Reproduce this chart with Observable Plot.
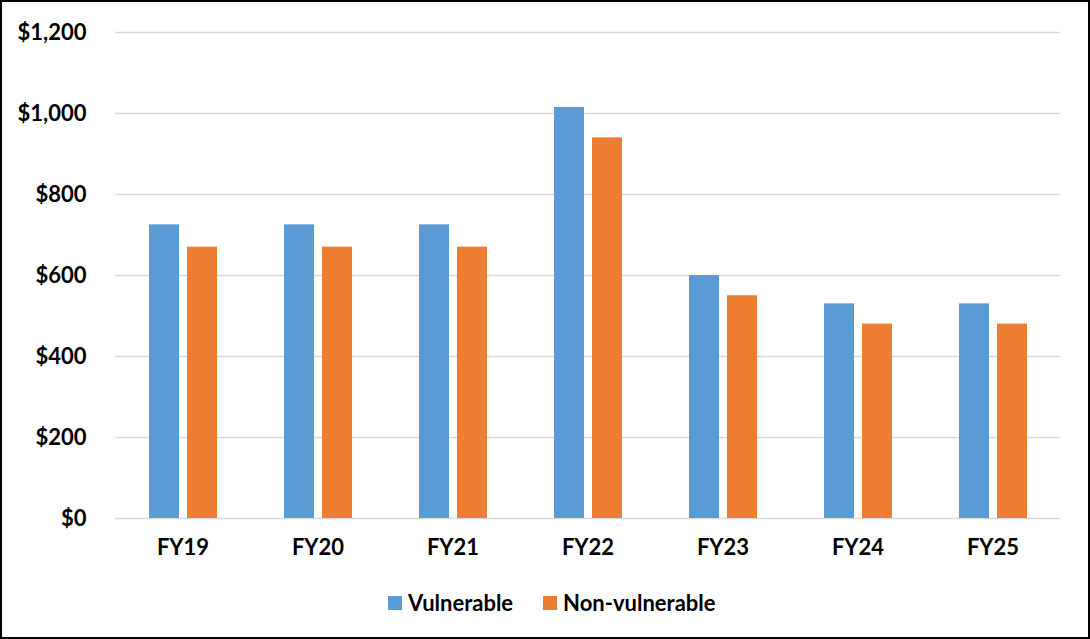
<!DOCTYPE html>
<html>
<head>
<meta charset="utf-8">
<script src="https://cdn.jsdelivr.net/npm/d3@7"></script>
<script src="https://cdn.jsdelivr.net/npm/@observablehq/plot@0.6"></script>
<style>
  html, body { margin: 0; padding: 0; background: #fff; }
  #wrap { position: relative; width: 1090px; height: 639px; overflow: hidden; font-family: Lato, "Open Sans", sans-serif; }
  #frame { position: absolute; left: 0; top: 0; width: 1090px; height: 639px; box-sizing: border-box; border: 2.5px solid #000; pointer-events: none; }
  #chart { position: absolute; left: 0; top: 0; }
  #legend { position: absolute; top: 589px; left: 388px; display: flex; align-items: center; font-weight: bold; font-size: 22px; color: #000; }
  .item { display: flex; align-items: center; margin-right: 30px; }
  .sw { width: 14px; height: 14px; margin-right: 6px; }
</style>
</head>
<body>
<div id="wrap">
  <div id="chart"></div>
  <div id="legend"></div>
  <div id="frame"></div>
</div>
<script>
const years = ["FY19", "FY20", "FY21", "FY22", "FY23", "FY24", "FY25"];
const vulnerable = [725, 725, 725, 1015, 600, 530, 530];
const nonVulnerable = [670, 670, 670, 940, 550, 480, 480];
const seriesNames = ["Vulnerable", "Non-vulnerable"];
const seriesColors = ["#5B9BD5", "#ED7D31"];
const yTicks = [0, 200, 400, 600, 800, 1000, 1200];

const data = [];
years.forEach((y, i) => {
  data.push({year: y, series: seriesNames[0], value: vulnerable[i]});
  data.push({year: y, series: seriesNames[1], value: nonVulnerable[i]});
});

const chart = Plot.plot({
  width: 1090,
  height: 580,
  marginLeft: 114,
  marginRight: 30,
  marginTop: 32,
  marginBottom: 62,
  style: {fontFamily: "Lato, 'Open Sans', sans-serif", fontWeight: "bold", fontSize: "22px", color: "#000", background: "transparent"},
  fx: {domain: years, padding: 0, label: null, tickSize: 0, tickPadding: 21},
  x: {domain: seriesNames, paddingInner: 0.22, paddingOuter: 0.85, axis: null},
  y: {domain: [0, 1200], ticks: yTicks, tickFormat: d3.format("$,"), label: null, tickSize: 0, tickPadding: 29},
  color: {domain: seriesNames, range: seriesColors},
  marks: [
    Plot.ruleY(yTicks, {stroke: "#D9D9D9", strokeWidth: 1.5}),
    Plot.barY(data, {fx: "year", x: "series", y: "value", fill: "series"}),
    Plot.axisY({ticks: yTicks, tickFormat: d3.format("$,"), tickSize: 0, tickPadding: 29, label: null, fontSize: 22, fontWeight: "bold"})
  ]
});
document.getElementById("chart").appendChild(chart);

const legend = document.getElementById("legend");
seriesNames.forEach((name, i) => {
  const item = document.createElement("div");
  item.className = "item";
  const sw = document.createElement("div");
  sw.className = "sw";
  sw.style.background = seriesColors[i];
  const label = document.createElement("span");
  label.textContent = name;
  item.appendChild(sw);
  item.appendChild(label);
  legend.appendChild(item);
});
</script>
</body>
</html>
